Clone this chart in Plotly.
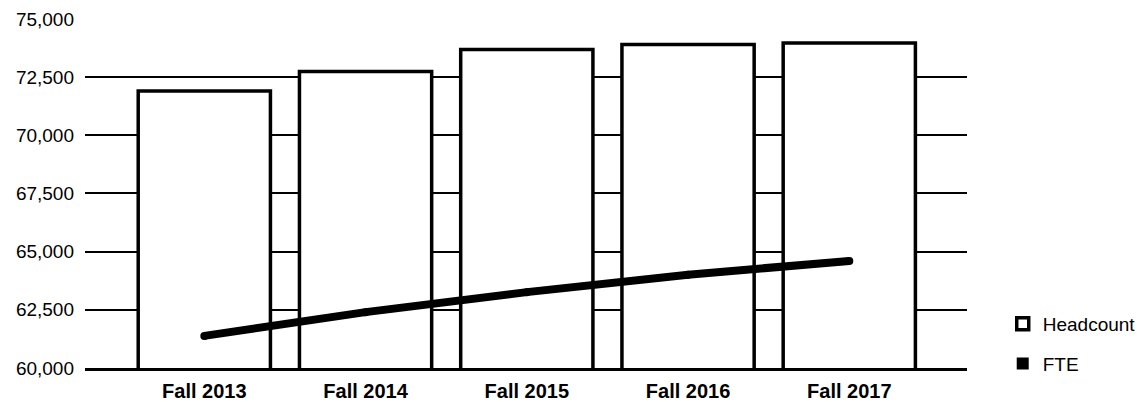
import plotly.graph_objects as go

categories = ["Fall 2013", "Fall 2014", "Fall 2015", "Fall 2016", "Fall 2017"]
headcount = [71900, 72740, 73690, 73900, 73970]
fte = [61380, 62400, 63260, 64010, 64600]
y_ticks = [60000, 62500, 65000, 67500, 70000, 72500, 75000]
y_tick_text = ["60,000", "62,500", "65,000", "67,500", "70,000", "72,500", "75,000"]

fig = go.Figure()

fig.add_trace(go.Bar(
    x=categories, y=headcount, name="Headcount",
    marker=dict(color="white", line=dict(color="black", width=3.5)),
    width=0.82, legendgroup="a", showlegend=True,
))

fig.add_trace(go.Scatter(
    x=categories, y=fte, name="FTE", mode="lines+markers",
    line=dict(color="black", width=8),
    marker=dict(color="black", size=8, symbol="circle"),
    showlegend=False,
))

# legend-only entry for FTE (filled square)
fig.add_trace(go.Scatter(
    x=[None], y=[None], name="FTE", mode="markers",
    marker=dict(color="black", size=12, symbol="square"),
    legendgroup="b", showlegend=True,
))

# the page body has an 8px default margin; size the figure so it fits the window
fig.update_layout(
    width=1140, height=394,
    margin=dict(l=77, r=181, t=10, b=34, autoexpand=False),
    paper_bgcolor="white", plot_bgcolor="white",
    font=dict(family="Liberation Sans, Arial, sans-serif", color="black"),
    legend=dict(
        x=1.0405, xanchor="left", y=0.069, yanchor="middle",
        font=dict(size=19, color="black"),
        traceorder="grouped", tracegroupgap=12,
        bgcolor="rgba(0,0,0,0)",
    ),
)

fig.update_xaxes(
    range=[-0.74, 4.73], automargin=False,
    showgrid=False, showline=True, linecolor="black", linewidth=2.5,
    ticks="", tickfont=dict(size=20, family="Liberation Sans, Arial, sans-serif", weight="bold"),
    ticklabelstandoff=3,
)
fig.update_yaxes(
    range=[60000, 75040], automargin=False,
    tickvals=y_ticks, ticktext=y_tick_text,
    showgrid=True, gridcolor="black", gridwidth=2,
    zeroline=False, showline=False, ticks="",
    tickfont=dict(size=19),
    ticklabelstandoff=10,
)

fig.write_html("out.html")
